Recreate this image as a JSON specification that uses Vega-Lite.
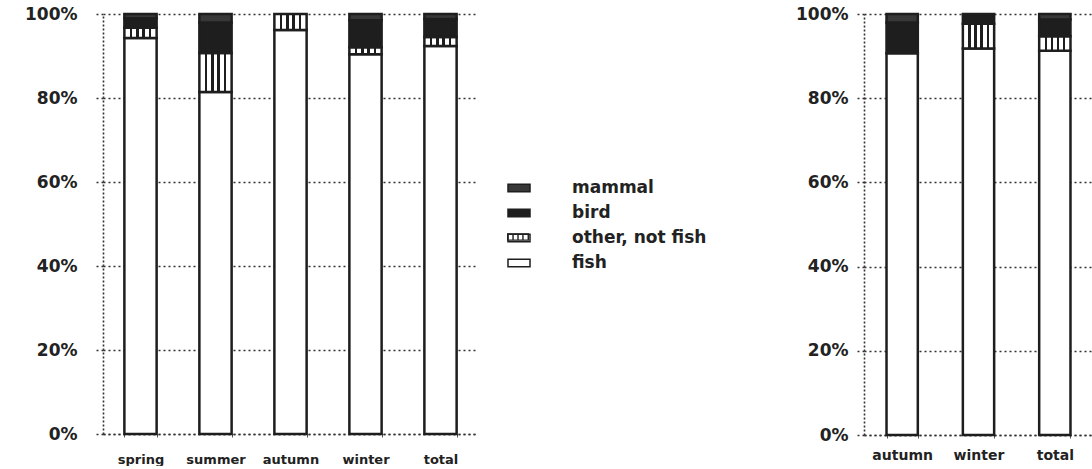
{
  "$schema": "https://vega.github.io/schema/vega-lite/v6.json",
  "background": "white",
  "padding": {"left": 24, "top": 5, "right": 0, "bottom": 0},
  "config": {
    "view": {"stroke": null},
    "font": "DejaVu Sans",
    "text": {"font": "DejaVu Sans"}
  },
  "datasets": {
    "diet": [
      {"panel": "first", "season": "spring", "cat": "fish", "share": 0.943},
      {"panel": "first", "season": "spring", "cat": "other, not fish", "share": 0.024},
      {"panel": "first", "season": "spring", "cat": "bird", "share": 0.023},
      {"panel": "first", "season": "spring", "cat": "mammal", "share": 0.010},
      {"panel": "first", "season": "summer", "cat": "fish", "share": 0.814},
      {"panel": "first", "season": "summer", "cat": "other, not fish", "share": 0.093},
      {"panel": "first", "season": "summer", "cat": "bird", "share": 0.073},
      {"panel": "first", "season": "summer", "cat": "mammal", "share": 0.020},
      {"panel": "first", "season": "autumn", "cat": "fish", "share": 0.962},
      {"panel": "first", "season": "autumn", "cat": "other, not fish", "share": 0.038},
      {"panel": "first", "season": "winter", "cat": "fish", "share": 0.904},
      {"panel": "first", "season": "winter", "cat": "other, not fish", "share": 0.017},
      {"panel": "first", "season": "winter", "cat": "bird", "share": 0.064},
      {"panel": "first", "season": "winter", "cat": "mammal", "share": 0.015},
      {"panel": "first", "season": "total", "cat": "fish", "share": 0.924},
      {"panel": "first", "season": "total", "cat": "other, not fish", "share": 0.021},
      {"panel": "first", "season": "total", "cat": "bird", "share": 0.043},
      {"panel": "first", "season": "total", "cat": "mammal", "share": 0.012},
      {"panel": "second", "season": "autumn", "cat": "fish", "share": 0.907},
      {"panel": "second", "season": "autumn", "cat": "bird", "share": 0.073},
      {"panel": "second", "season": "autumn", "cat": "mammal", "share": 0.020},
      {"panel": "second", "season": "winter", "cat": "fish", "share": 0.918},
      {"panel": "second", "season": "winter", "cat": "other, not fish", "share": 0.059},
      {"panel": "second", "season": "winter", "cat": "bird", "share": 0.023},
      {"panel": "second", "season": "total", "cat": "fish", "share": 0.913},
      {"panel": "second", "season": "total", "cat": "other, not fish", "share": 0.034},
      {"panel": "second", "season": "total", "cat": "bird", "share": 0.040},
      {"panel": "second", "season": "total", "cat": "mammal", "share": 0.013}
    ]
  },
  "data": {"name": "diet"},
  "transform": [
    {"calculate": "indexof(['fish', 'other, not fish', 'bird', 'mammal'], datum.cat)", "as": "stackOrder"}
  ],
  "bounds": "flush",
  "spacing": 386,
  "resolve": {
    "scale": {"x": "independent", "y": "independent", "fill": "independent", "shape": "independent"},
    "legend": {"fill": "independent", "shape": "independent"}
  },
  "hconcat": [
    {
      "width": 375,
      "height": 420,
      "transform": [{"filter": "datum.panel === 'first'"}],
      "encoding": {
        "x": {
          "field": "season",
          "type": "nominal",
          "sort": ["spring", "summer", "autumn", "winter", "total"],
          "scale": {"paddingInner": 0.57, "paddingOuter": 0.285},
          "axis": {
            "title": null,
            "labelAngle": 0,
            "labelFontSize": 13,
            "labelFontWeight": "bold",
            "labelColor": "#222",
            "labelPadding": 16,
            "domainDash": [2, 3],
            "domainColor": "#333",
            "domainWidth": 1.3,
            "ticks": true,
            "tickBand": "extent",
            "tickSize": 3,
            "tickColor": "#555",
            "grid": false
          }
        },
        "y": {
          "field": "share",
          "type": "quantitative",
          "stack": true,
          "scale": {"domain": [0, 1], "nice": false},
          "axis": {
            "title": null,
            "values": [0, 0.2, 0.4, 0.6, 0.8, 1],
            "format": ".0%",
            "grid": true,
            "gridDash": [2, 3],
            "gridColor": "#333",
            "gridWidth": 1.3,
            "domainDash": [2, 2],
            "domainColor": "#333",
            "domainWidth": 1.6,
            "tickSize": 8,
            "tickDash": [2, 3],
            "tickColor": "#333",
            "tickWidth": 1.3,
            "labelFontSize": 17,
            "labelFontWeight": "bold",
            "labelColor": "#222",
            "labelPadding": 18
          }
        },
        "order": {"field": "stackOrder", "type": "quantitative"}
      },
      "layer": [
        {
          "mark": {"type": "bar", "stroke": "#1e1e1e", "strokeWidth": 2.5},
          "encoding": {
            "fill": {
              "field": "cat",
              "type": "nominal",
              "scale": {
                "domain": ["mammal", "bird", "other, not fish", "fish"],
                "range": ["#383838", "#1e1e1e", "#ffffff", "#ffffff"]
              },
              "condition": {
                "test": "datum.cat === 'other, not fish'",
                "value": {
                  "gradient": "linear",
                  "x1": 0, "y1": 0, "x2": 1, "y2": 0,
                  "stops": [
                    {"offset": 0, "color": "#ffffff"},
                    {"offset": 0.17, "color": "#ffffff"},
                    {"offset": 0.17, "color": "#1e1e1e"},
                    {"offset": 0.25, "color": "#1e1e1e"},
                    {"offset": 0.25, "color": "#ffffff"},
                    {"offset": 0.37, "color": "#ffffff"},
                    {"offset": 0.37, "color": "#1e1e1e"},
                    {"offset": 0.45, "color": "#1e1e1e"},
                    {"offset": 0.45, "color": "#ffffff"},
                    {"offset": 0.56, "color": "#ffffff"},
                    {"offset": 0.56, "color": "#1e1e1e"},
                    {"offset": 0.64, "color": "#1e1e1e"},
                    {"offset": 0.64, "color": "#ffffff"},
                    {"offset": 0.76, "color": "#ffffff"},
                    {"offset": 0.76, "color": "#1e1e1e"},
                    {"offset": 0.84, "color": "#1e1e1e"},
                    {"offset": 0.84, "color": "#ffffff"},
                    {"offset": 1, "color": "#ffffff"}
                  ]
                }
              },
              "legend": {
                "title": null,
                "orient": "none",
                "legendX": 404,
                "legendY": 162,
                "padding": 0,
                "symbolType": "M-1,-0.35H1V0.35H-1Z",
                "symbolSize": 484,
                "symbolOpacity": 1,
                "labelFontSize": 17,
                "labelFontWeight": "bold",
                "labelColor": "#222",
                "labelOffset": 41,
                "rowPadding": 5,
                "encode": {
                  "symbols": {
                    "stroke": {"value": "#222"},
                    "strokeWidth": {"value": 1.5}
                  }
                }
              }
            }
          }
        },
        {
          "transform": [{"filter": "datum.cat === 'other, not fish'"}],
          "mark": {"type": "point", "filled": true, "fill": "#222222", "stroke": "#222222", "strokeWidth": 0, "opacity": 0},
          "encoding": {
            "shape": {
              "field": "cat",
              "type": "nominal",
              "scale": {
                "domain": ["other, not fish"],
                "range": ["M-1,-0.35H1V-0.22H-1Z M-1,0.22H1V0.35H-1Z M-1,-0.35H-0.87V0.35H-1Z M0.87,-0.35H1V0.35H0.87Z M-0.515,-0.35H-0.385V0.35H-0.515Z M-0.065,-0.35H0.065V0.35H-0.065Z M0.385,-0.35H0.515V0.35H0.385Z"]
              },
              "legend": {
                "title": null,
                "orient": "none",
                "legendX": 404,
                "legendY": 212,
                "padding": 0,
                "symbolSize": 484,
                "symbolOpacity": 1,
                "symbolFillColor": "#222222",
                "symbolStrokeWidth": 0,
                "labelExpr": "' '",
                "labelFontSize": 17,
                "labelOffset": 41,
                "encode": {
                  "symbols": {
                    "fill": {"value": "#222222"},
                    "strokeWidth": {"value": 0},
                    "opacity": {"value": 1}
                  }
                }
              }
            }
          }
        }
      ]
    },
    {
      "width": 229,
      "height": 421,
      "transform": [{"filter": "datum.panel === 'second'"}],
      "mark": {"type": "bar", "stroke": "#1e1e1e", "strokeWidth": 2.5},
      "encoding": {
        "x": {
          "field": "season",
          "type": "nominal",
          "sort": ["autumn", "winter", "total"],
          "scale": {"paddingInner": 0.59, "paddingOuter": 0.295},
          "axis": {
            "title": null,
            "labelAngle": 0,
            "labelFontSize": 14,
            "labelFontWeight": "bold",
            "labelColor": "#222",
            "labelPadding": 10,
            "domainDash": [2, 3],
            "domainColor": "#333",
            "domainWidth": 1.3,
            "ticks": true,
            "tickBand": "extent",
            "tickSize": 3,
            "tickColor": "#555",
            "grid": false
          }
        },
        "y": {
          "field": "share",
          "type": "quantitative",
          "stack": true,
          "scale": {"domain": [0, 1], "nice": false},
          "axis": {
            "title": null,
            "values": [0, 0.2, 0.4, 0.6, 0.8, 1],
            "format": ".0%",
            "grid": true,
            "gridDash": [2, 3],
            "gridColor": "#333",
            "gridWidth": 1.3,
            "domainDash": [2, 2],
            "domainColor": "#333",
            "domainWidth": 1.6,
            "tickSize": 8,
            "tickDash": [2, 3],
            "tickColor": "#333",
            "tickWidth": 1.3,
            "labelFontSize": 17,
            "labelFontWeight": "bold",
            "labelColor": "#222",
            "labelPadding": 8
          }
        },
        "order": {"field": "stackOrder", "type": "quantitative"},
        "fill": {
          "field": "cat",
          "type": "nominal",
          "scale": {
            "domain": ["mammal", "bird", "other, not fish", "fish"],
            "range": ["#383838", "#1e1e1e", "#ffffff", "#ffffff"]
          },
          "condition": {
            "test": "datum.cat === 'other, not fish'",
            "value": {
              "gradient": "linear",
              "x1": 0, "y1": 0, "x2": 1, "y2": 0,
              "stops": [
                {"offset": 0, "color": "#ffffff"},
                {"offset": 0.17, "color": "#ffffff"},
                {"offset": 0.17, "color": "#1e1e1e"},
                {"offset": 0.25, "color": "#1e1e1e"},
                {"offset": 0.25, "color": "#ffffff"},
                {"offset": 0.37, "color": "#ffffff"},
                {"offset": 0.37, "color": "#1e1e1e"},
                {"offset": 0.45, "color": "#1e1e1e"},
                {"offset": 0.45, "color": "#ffffff"},
                {"offset": 0.56, "color": "#ffffff"},
                {"offset": 0.56, "color": "#1e1e1e"},
                {"offset": 0.64, "color": "#1e1e1e"},
                {"offset": 0.64, "color": "#ffffff"},
                {"offset": 0.76, "color": "#ffffff"},
                {"offset": 0.76, "color": "#1e1e1e"},
                {"offset": 0.84, "color": "#1e1e1e"},
                {"offset": 0.84, "color": "#ffffff"},
                {"offset": 1, "color": "#ffffff"}
              ]
            }
          },
          "legend": null
        }
      }
    }
  ]
}
